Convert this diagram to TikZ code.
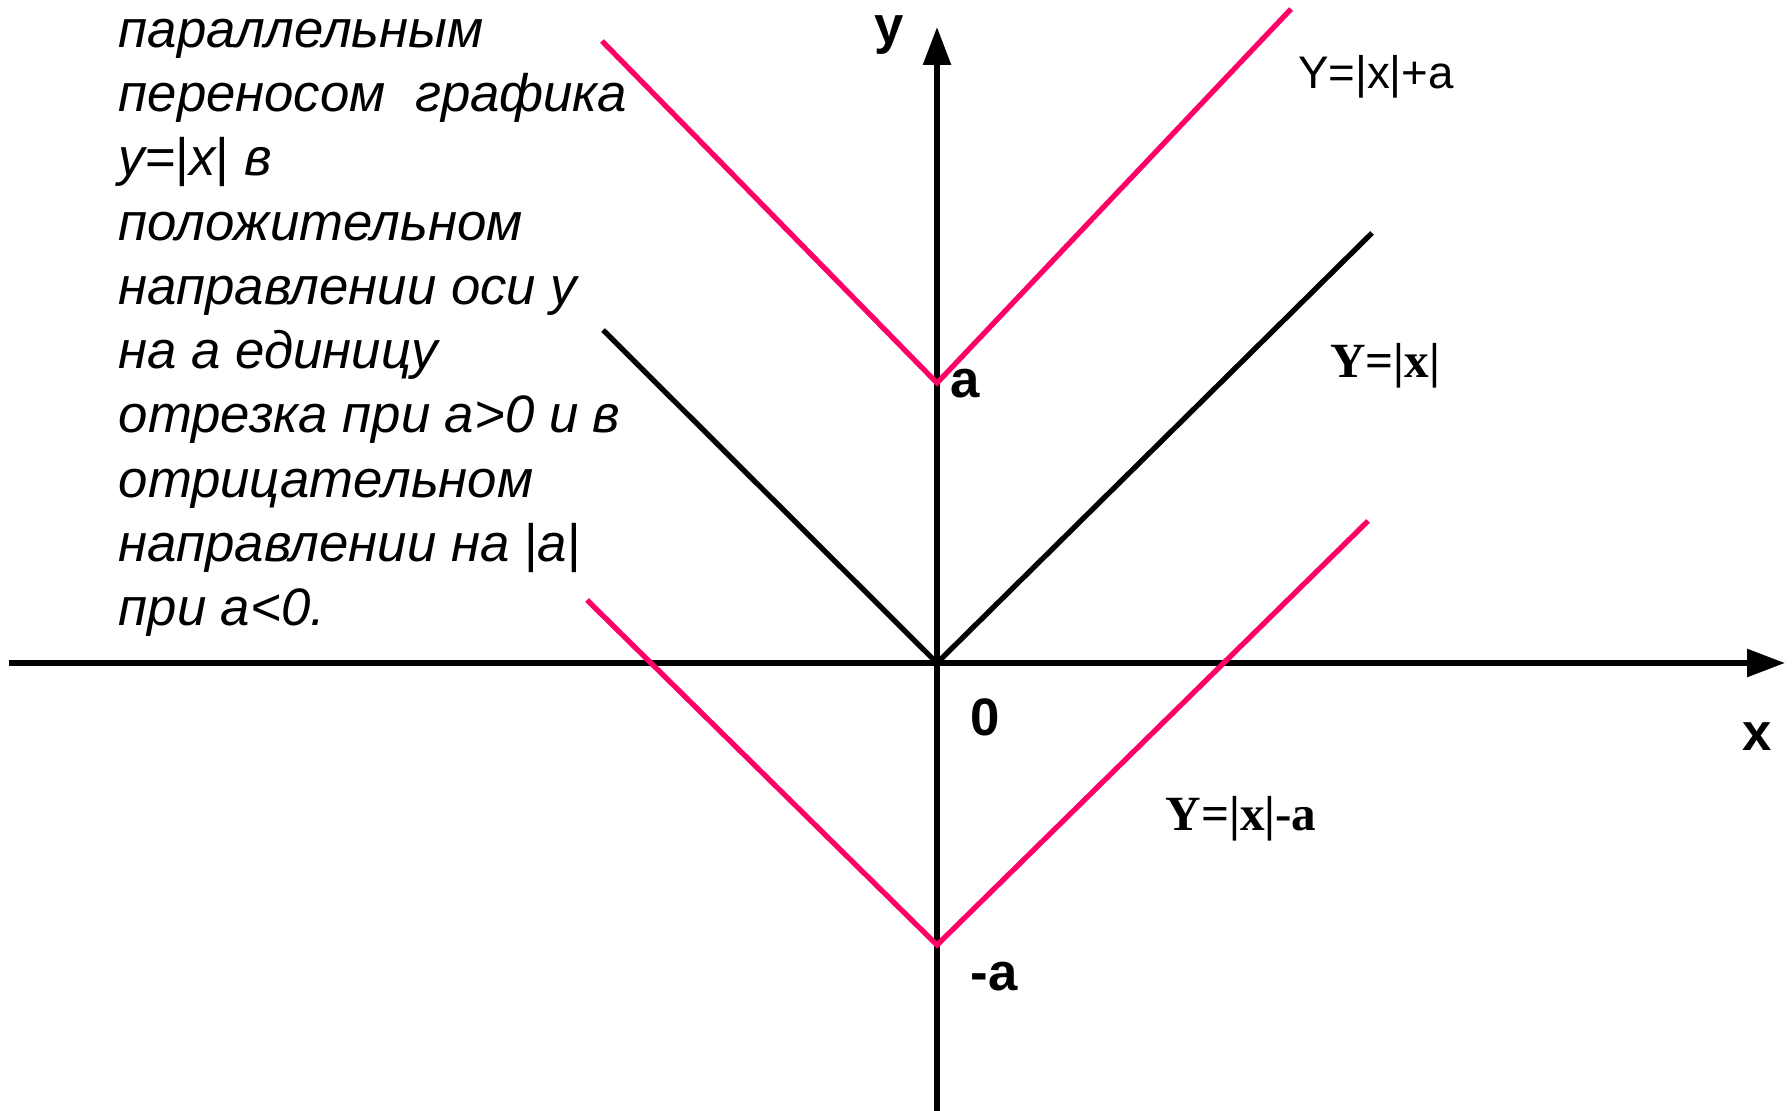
\documentclass[tikz,border=0pt]{standalone}
\usepackage{fontspec}
\setmainfont{Liberation Sans}
\newfontfamily\serifbf{Liberation Serif}
\usetikzlibrary{arrows.meta}
\definecolor{shiftpink}{RGB}{255,0,102}

\begin{document}
\begin{tikzpicture}[
        x=0.1mm, y=-0.1mm, % one unit = one pixel of the sheet
        axis/.style={line width=1.6pt, -{Triangle[length=3.8mm, width=2.7mm]}},
        graph/.style={line width=1.5pt, line join=miter},
        shifted/.style={graph, draw=shiftpink},
        axislabel/.style={anchor=base, inner sep=0pt, font=\fontsize{15}{18}\selectfont\bfseries},
        formula/.style={anchor=base, inner sep=0pt, font=\fontsize{14}{16}\selectfont\serifbf\bfseries},
        note/.style={anchor=north west, inner sep=0pt, align=left, font=\fontsize{15}{18.3}\selectfont\itshape}
    ]
    \useasboundingbox (0,0) rectangle (1792,1111);

    % Axes
    \coordinate (xl) at (9, 663);
    \coordinate (xr) at (1785, 663);
    \coordinate (yb) at (937, 1111);
    \coordinate (yt) at (937, 27);
    \draw[axis] (xl) -- (xr);
    \draw[axis] (yb) -- (yt);

    % y = |x|
    \coordinate (o) at (937, 663);
    \coordinate (bl) at (603, 330);
    \coordinate (br) at (1372, 233);
    \draw[graph] (bl) -- (o) -- (br);

    % y = |x| + a
    \coordinate (ta) at (937, 383);
    \coordinate (tl) at (602, 41);
    \coordinate (tr) at (1291, 9);
    \draw[shifted] (tl) -- (ta) -- (tr);

    % y = |x| - a
    \coordinate (ma) at (937, 945);
    \coordinate (ml) at (587, 600);
    \coordinate (mr) at (1368, 521);
    \draw[shifted] (ml) -- (ma) -- (mr);

    % Axis marks
    \node[axislabel] (ylab) at (889, 44) {y};
    \node[axislabel] (xlab) at (1757, 750) {x};
    \node[axislabel] (zero) at (985, 735) {0};
    \node[axislabel] (alab) at (965, 398) {a};
    \node[axislabel] (malab) at (994, 990) {-a};

    % Graph labels
    \node[anchor=base, inner sep=0pt, font=\fontsize{13}{16}\selectfont] (lplus) at (1376, 89) {Y=|x|+a};
    \node[formula] (lbase) at (1385, 378) {Y=|x|};
    \node[formula] (lminus) at (1241, 830) {Y=|x|-a};

    % Explanation
    \node[note] (rule) at (118, 18) {параллельным\\
        переносом\ \ графика\\
        у{\upshape=|}x{\upshape|} в\\
        положительном\\
        направлении оси у\\
        на а единицу\\
        отрезка при а>0 и в\\
        отрицательном\\
        направлении на {\upshape|}а{\upshape|}\\
        при а<0.};

\end{tikzpicture}
\end{document}
